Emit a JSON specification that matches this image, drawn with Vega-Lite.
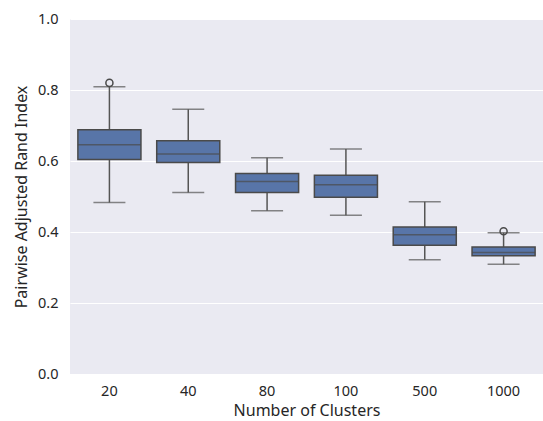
{
  "$schema": "https://vega.github.io/schema/vega-lite/v6.json",
  "width": 473,
  "height": 355,
  "autosize": "none",
  "padding": {"left": 70, "top": 19, "right": 0, "bottom": 47},
  "background": "white",
  "config": {
    "view": {"fill": "#eaeaf2", "stroke": null},
    "font": "Noto Sans",
    "axis": {
      "domain": false,
      "ticks": false,
      "labelFont": "Noto Sans",
      "labelFontSize": 14.5,
      "labelColor": "#262626",
      "titleFont": "Noto Sans",
      "titleFontSize": 16,
      "titleFontWeight": "normal",
      "titleColor": "#262626",
      "gridColor": "white",
      "gridWidth": 1.2
    }
  },
  "datasets": {
    "boxes": [
      {"k": "20", "lower": 0.483, "q1": 0.604, "median": 0.646, "q3": 0.688, "upper": 0.809},
      {"k": "40", "lower": 0.511, "q1": 0.596, "median": 0.620, "q3": 0.657, "upper": 0.746},
      {"k": "80", "lower": 0.460, "q1": 0.511, "median": 0.542, "q3": 0.565, "upper": 0.609},
      {"k": "100", "lower": 0.447, "q1": 0.498, "median": 0.533, "q3": 0.560, "upper": 0.634},
      {"k": "500", "lower": 0.322, "q1": 0.363, "median": 0.392, "q3": 0.414, "upper": 0.485},
      {"k": "1000", "lower": 0.309, "q1": 0.333, "median": 0.342, "q3": 0.358, "upper": 0.398}
    ],
    "outliers": [
      {"k": "20", "value": 0.820},
      {"k": "1000", "value": 0.402}
    ]
  },
  "data": {"name": "boxes"},
  "encoding": {
    "x": {
      "field": "k",
      "type": "nominal",
      "sort": ["20", "40", "80", "100", "500", "1000"],
      "scale": {"paddingInner": 0, "paddingOuter": 0},
      "axis": {"title": "Number of Clusters", "labelAngle": 0, "grid": false, "labelPadding": 10, "titlePadding": 5}
    }
  },
  "layer": [
    {
      "mark": {"type": "rule", "color": "#555555", "strokeWidth": 1.5},
      "encoding": {
        "y": {"field": "lower", "type": "quantitative", "scale": {"domain": [0, 1], "nice": false, "zero": false},
          "axis": {"title": "Pairwise Adjusted Rand Index", "values": [0, 0.2, 0.4, 0.6, 0.8, 1.0], "format": ".1f", "labelPadding": 12, "titlePadding": 8, "grid": true}},
        "y2": {"field": "q1"}
      }
    },
    {
      "mark": {"type": "rule", "color": "#555555", "strokeWidth": 1.5},
      "encoding": {
        "y": {"field": "q3", "type": "quantitative"},
        "y2": {"field": "upper"}
      }
    },
    {
      "mark": {"type": "tick", "color": "#555555", "thickness": 1.5, "size": 32, "orient": "horizontal"},
      "encoding": {"y": {"field": "lower", "type": "quantitative"}}
    },
    {
      "mark": {"type": "tick", "color": "#555555", "thickness": 1.5, "size": 32, "orient": "horizontal"},
      "encoding": {"y": {"field": "upper", "type": "quantitative"}}
    },
    {
      "mark": {"type": "bar", "fill": "#5875a8", "stroke": "#4a4a4a", "strokeWidth": 1.5, "width": {"band": 0.8}},
      "encoding": {
        "y": {"field": "q1", "type": "quantitative"},
        "y2": {"field": "q3"}
      }
    },
    {
      "mark": {"type": "tick", "color": "#4a4a4a", "thickness": 1.5, "size": 63, "orient": "horizontal"},
      "encoding": {"y": {"field": "median", "type": "quantitative"}}
    },
    {
      "data": {"name": "outliers"},
      "mark": {"type": "point", "shape": "circle", "filled": false, "stroke": "#4a4a4a", "strokeWidth": 1.5, "size": 50, "opacity": 1},
      "encoding": {
        "x": {"field": "k", "type": "nominal", "sort": ["20", "40", "80", "100", "500", "1000"]},
        "y": {"field": "value", "type": "quantitative"}
      }
    }
  ]
}
